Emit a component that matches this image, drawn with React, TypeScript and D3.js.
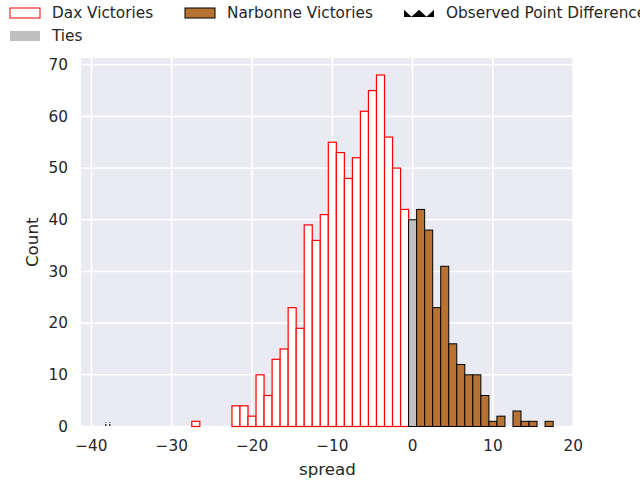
import { useEffect, useRef } from 'react';
import * as d3 from 'd3';

// histogram of simulated spreads, one bin per integer point
const daxBins = [-27, -22, -21, -20, -19, -18, -17, -16, -15, -14, -13, -12, -11, -10, -9, -8, -7, -6, -5, -4, -3, -2, -1];
const daxCounts = [1, 4, 4, 2, 10, 6, 13, 15, 23, 19, 39, 36, 41, 55, 53, 48, 52, 61, 65, 68, 56, 50, 42];
const tieBins = [0];
const tieCounts = [40];
const narbonneBins = [1, 2, 3, 4, 5, 6, 7, 8, 9, 10, 11, 13, 14, 15, 17];
const narbonneCounts = [42, 38, 23, 31, 16, 12, 10, 10, 6, 1, 2, 3, 1, 1, 1];
const observedBins = [-38];
const observedCounts = [0.8];

const xTicks = [-40, -30, -20, -10, 0, 10, 20];
const yTicks = [0, 10, 20, 30, 40, 50, 60, 70];

const W = 640;
const H = 480;
const margin = { top: 58, right: 66, bottom: 53.5, left: 81 };
const font = '"DejaVu Sans", sans-serif';
const ink = '#262626';

export default function App() {
    const ref = useRef<SVGSVGElement | null>(null);

    useEffect(() => {
        document.body.style.margin = '0';
        if (!ref.current) return;

        const innerW = W - margin.left - margin.right;
        const innerH = H - margin.top - margin.bottom;

        const x = d3.scaleLinear().domain([-41.3, 20.1]).range([0, innerW]);
        const y = d3.scaleLinear().domain([0, 71.3]).range([innerH, 0]);

        const svg = d3.select(ref.current);
        svg.selectAll('*').remove();

        const defs = svg.append('defs');
        // legend hatch: black with a white zigzag
        const pat = defs
            .append('pattern')
            .attr('id', 'tri')
            .attr('patternUnits', 'userSpaceOnUse')
            .attr('x', 404)
            .attr('y', 9)
            .attr('width', 15)
            .attr('height', 8);
        pat.append('rect').attr('width', 15).attr('height', 8).attr('fill', 'black');
        pat.append('path').attr('d', 'M0,0 L7.5,7 L15,0').attr('fill', 'white').attr('stroke', 'white').attr('stroke-width', 1.2);

        // sparse hatch for the tiny bar in the plot
        const pat2 = defs
            .append('pattern')
            .attr('id', 'tri2')
            .attr('patternUnits', 'userSpaceOnUse')
            .attr('width', 4)
            .attr('height', 3);
        pat2.append('rect').attr('width', 1.4).attr('height', 2).attr('fill', '#333');

        const g = svg.append('g').attr('transform', `translate(${margin.left},${margin.top})`);

        g.append('rect').attr('width', innerW).attr('height', innerH).attr('fill', '#EAEAF2');

        g.selectAll('line.gx')
            .data(xTicks)
            .join('line')
            .attr('class', 'gx')
            .attr('x1', d => x(d))
            .attr('x2', d => x(d))
            .attr('y1', 0)
            .attr('y2', innerH)
            .attr('stroke', 'white')
            .attr('stroke-width', 1.6);

        g.selectAll('line.gy')
            .data(yTicks)
            .join('line')
            .attr('class', 'gy')
            .attr('x1', 0)
            .attr('x2', innerW)
            .attr('y1', d => y(d))
            .attr('y2', d => y(d))
            .attr('stroke', 'white')
            .attr('stroke-width', 1.6);

        const drawBars = (bins: number[], counts: number[], fill: string, stroke: string, sw: number) => {
            g.append('g')
                .selectAll('rect')
                .data(bins.map((b, i) => ({ b, c: counts[i] })))
                .join('rect')
                .attr('x', d => x(d.b - 0.5))
                .attr('width', d => x(d.b + 0.5) - x(d.b - 0.5))
                .attr('y', d => y(d.c))
                .attr('height', d => y(0) - y(d.c))
                .attr('fill', fill)
                .attr('stroke', stroke)
                .attr('stroke-width', sw);
        };

        drawBars(daxBins, daxCounts, 'white', 'red', 1.2);
        drawBars(tieBins, tieCounts, '#C0C0C0', 'black', 1);
        drawBars(narbonneBins, narbonneCounts, '#B87333', 'black', 1);
        drawBars(observedBins, observedCounts, 'url(#tri2)', 'none', 0);

        // axes labels
        g.selectAll('text.xt')
            .data(xTicks)
            .join('text')
            .attr('class', 'xt')
            .attr('x', d => x(d))
            .attr('y', innerH + 24)
            .attr('text-anchor', 'middle')
            .attr('font-family', font)
            .attr('font-size', 15.3)
            .attr('fill', ink)
            .text(d => (d < 0 ? '\u2212' + Math.abs(d) : String(d)));

        g.selectAll('text.yt')
            .data(yTicks)
            .join('text')
            .attr('class', 'yt')
            .attr('x', -13)
            .attr('y', d => y(d))
            .attr('dy', '0.35em')
            .attr('text-anchor', 'end')
            .attr('font-family', font)
            .attr('font-size', 15.3)
            .attr('fill', ink)
            .text(d => String(d));

        g.append('text')
            .attr('x', innerW / 2)
            .attr('y', innerH + 48)
            .attr('text-anchor', 'middle')
            .attr('font-family', font)
            .attr('font-size', 16.7)
            .attr('fill', ink)
            .text('spread');

        g.append('text')
            .attr('transform', `translate(-43,${innerH / 2}) rotate(-90)`)
            .attr('text-anchor', 'middle')
            .attr('font-family', font)
            .attr('font-size', 16.7)
            .attr('fill', ink)
            .text('Count');

        // legend
        const legend = [
            { label: 'Dax Victories', x: 10, y: 8, h: 10, fill: 'white', stroke: 'red' },
            { label: 'Narbonne Victories', x: 185, y: 8, h: 10, fill: '#B87333', stroke: 'black' },
            { label: 'Observed Point Difference', x: 404, y: 9, h: 8, fill: 'url(#tri)', stroke: 'none' },
            { label: 'Ties', x: 10, y: 31, h: 10, fill: '#C0C0C0', stroke: 'none' },
        ];
        const lg = svg.append('g');
        legend.forEach(l => {
            lg.append('rect')
                .attr('x', l.x)
                .attr('y', l.y)
                .attr('width', 30)
                .attr('height', l.h)
                .attr('fill', l.fill)
                .attr('stroke', l.stroke)
                .attr('stroke-width', 1);
            lg.append('text')
                .attr('x', l.x + 42)
                .attr('y', l.y + l.h / 2)
                .attr('dy', '0.35em')
                .attr('font-family', font)
                .attr('font-size', 15.3)
                .attr('fill', ink)
                .text(l.label);
        });
    }, []);

    return <svg ref={ref} width={W} height={H} style={{ display: 'block' }} />;
}
